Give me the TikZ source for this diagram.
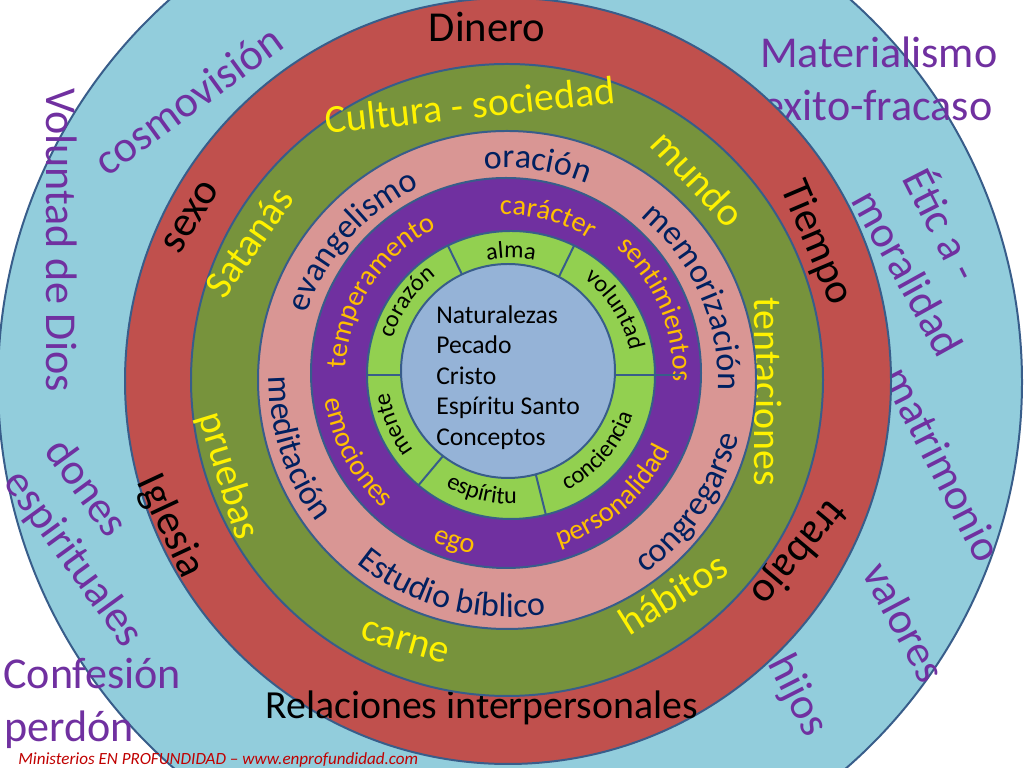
\documentclass[tikz,border=0pt]{standalone}
\usepackage{fontspec}
\setmainfont{Carlito}
\usepackage{tikz}
\usetikzlibrary{decorations.text}
\definecolor{skyring}{HTML}{92CDDC}
\definecolor{redring}{HTML}{C0504D}
\definecolor{olivering}{HTML}{77933C}
\definecolor{pinkring}{HTML}{D99694}
\definecolor{purplering}{HTML}{7030A0}
\definecolor{limering}{HTML}{92D050}
\definecolor{corefill}{HTML}{95B3D7}
\definecolor{edgeblue}{HTML}{385D8A}
\definecolor{textnavy}{HTML}{002060}
\definecolor{textorange}{HTML}{FFC000}
\definecolor{footred}{HTML}{C00000}

\tikzset{
  ring/.style={draw=edgeblue, line width=1.4pt},
  outerlbl/.style={text=purplering, inner sep=0pt, font=\fontsize{31}{37}\selectfont},
  redlbl/.style={text=black, inner sep=0pt, font=\fontsize{30}{36}\selectfont},
  greenlbl/.style={text=yellow, inner sep=0pt, font=\fontsize{28}{34}\selectfont},
}

% text bent along a ring: centre, radius, start, end, format, text
\newcommand{\ringtext}[6]{%
  \path[decorate, decoration={text along path, text align=center, text={|#5|#6}}]
    (#1) ++(#3:#2) arc[start angle=#3, end angle=#4, radius=#2];}

\begin{document}
\begin{tikzpicture}[x=0.703125pt, y=0.703125pt]
  \useasboundingbox (0,0) rectangle (1024,768);
  \clip (0,0) rectangle (1024,768);
  \fill[white] (0,0) rectangle (1024,768);

  \coordinate (sky) at (510,386);
  \coordinate (rj) at (508,387);
  \coordinate (pk) at (507,388);
  \coordinate (pu) at (506,395);
  \coordinate (lm) at (511,393);
  \coordinate (cr) at (508,397);

  % outer ring
  \draw[ring, fill=skyring] (sky) circle[radius=512];
  \node[outerlbl, rotate=36] (cosmo) at (188,668) {cosmovisión};
  \node[outerlbl, rotate=-90] (voluntad) at (62,528) {Voluntad de Dios};
  \node[outerlbl, rotate=-54] (dones) at (88,281) {dones};
  \node[outerlbl, rotate=-54] (espir) at (73,209) {espirituales};
  \node[outerlbl, anchor=base west] (confesion) at (3,79) {Confesión};
  \node[outerlbl, anchor=base west] (perdon) at (4,26) {perdón};
  \node[outerlbl, anchor=base west] (materia) at (760,700) {Materialismo};
  \node[outerlbl, anchor=base west] (exito) at (762,647) {exito-fracaso};
  \node[outerlbl, rotate=-63] (etica) at (945,545) {Étic a -};
  \node[outerlbl, rotate=-61] (moral) at (908,495) {moralidad};
  \node[outerlbl, rotate=-63] (matri) at (943,304) {matrimonio};
  \node[outerlbl, rotate=-62] (valores) at (905,146) {valores};
  \node[outerlbl, rotate=-63] (hijos) at (797,72) {hijos};

  % red ring
  \draw[ring, fill=redring] (rj) circle[radius=383];
  \node[redlbl, anchor=base] (dinero) at (487,726) {Dinero};
  \node[redlbl, rotate=59] (sexo) at (191,551) {sexo};
  \node[redlbl, rotate=-67] (tiempo) at (816,525) {Tiempo};
  \node[redlbl, rotate=-65] (iglesia) at (170,242) {Iglesia};
  \node[redlbl, rotate=-130] (trabajo) at (798,216) {trabajo};
  \node[redlbl, anchor=base west, font=\fontsize{28}{34}\selectfont] (relac) at (265,49) {Relaciones interpersonales};

  % green ring
  \draw[ring, fill=olivering] (pk) circle[radius=316];
  \node[greenlbl, rotate=6] (cultura) at (470,663) {Cultura - sociedad};
  \node[greenlbl, rotate=55] (satanas) at (249,526) {Satanás};
  \node[greenlbl, rotate=-47] (mundo) at (698,590) {mundo};
  \node[greenlbl, rotate=-90] (tenta) at (768,376) {tentaciones};
  \node[greenlbl, rotate=-73] (pruebas) at (228,292) {pruebas};
  \node[greenlbl, rotate=-16] (carne) at (405,126) {carne};
  \node[greenlbl, rotate=32] (habitos) at (673,175) {hábitos};

  % pink ring
  \draw[ring, fill=pinkring] (pk) circle[radius=249];
  \ringtext{pk}{212}{142}{22}{\color{textnavy}\fontsize{24}{29}\selectfont}{oración}
  \ringtext{pk}{211}{198}{78}{\color{textnavy}\fontsize{24}{29}\selectfont}{evangelismo}
  \ringtext{pk}{211}{84}{-36}{\color{textnavy}\fontsize{24}{29}\selectfont}{memorización}
  \ringtext{pk}{238}{138}{258}{\color{textnavy}\fontsize{24}{29}\selectfont}{meditación}
  \ringtext{pk}{237}{195}{315}{\color{textnavy}\fontsize{24}{29}\selectfont}{Estudio bíblico}
  \ringtext{pk}{238}{266}{386}{\color{textnavy}\fontsize{24}{29}\selectfont}{congregarse}

  % purple ring
  \draw[ring, fill=purplering] (pu) circle[radius=195];
  \ringtext{pu}{158}{135}{15}{\color{textorange}\fontsize{20}{24}\selectfont}{carácter}
  \ringtext{pu}{160}{207}{87}{\color{textorange}\fontsize{20}{24}\selectfont}{temperamento}
  \ringtext{pu}{167}{83}{-37}{\color{textorange}\fontsize{20}{24}\selectfont}{sentimientos}
  \ringtext{pu}{183}{148}{268}{\color{textorange}\fontsize{20}{24}\selectfont}{emociones}
  \ringtext{pu}{184}{193}{313}{\color{textorange}\fontsize{20}{24}\selectfont}{ego}
  \ringtext{pu}{181}{251}{371}{\color{textorange}\fontsize{20}{24}\selectfont}{personalidad}

  % light green ring
  \draw[ring, fill=limering] (lm) circle[radius=144];
  \foreach \a/\r in {0/172, 64/144, 116/144, 180/144, 230/144, 284/144}
    \draw[edgeblue, line width=1.4pt] (lm) ++(\a:100) -- ++(\a:\r-100);
  \ringtext{lm}{117}{150}{30}{\color{black}\fontsize{17}{20}\selectfont}{alma}
  \ringtext{lm}{121}{92}{-28}{\color{black}\fontsize{17}{20}\selectfont}{voluntad}
  \ringtext{lm}{124}{205}{85}{\color{black}\fontsize{17}{20}\selectfont}{corazón}
  \ringtext{lm}{123}{263}{143}{\color{black}\fontsize{17}{20}\selectfont}{mente}
  \ringtext{lm}{129}{196}{316}{\color{black}\fontsize{17}{20}\selectfont}{espíritu}
  \ringtext{lm}{128}{259}{379}{\color{black}\fontsize{17}{20}\selectfont}{conciencia}

  % core
  \draw[ring, fill=corefill] (cr) circle[radius=107];
  \node[anchor=north west, align=left, inner sep=0pt, font=\fontsize{18}{21.5}\selectfont]
    (nucleo) at (436,463) {Naturalezas\\Pecado\\Cristo\\Espíritu Santo\\Conceptos};

  \node[anchor=base west, inner sep=0pt, text=footred, font=\itshape\fontsize{12}{14}\selectfont]
    (credit) at (18,3) {Ministerios EN PROFUNDIDAD – www.enprofundidad.com};
\end{tikzpicture}
\end{document}
